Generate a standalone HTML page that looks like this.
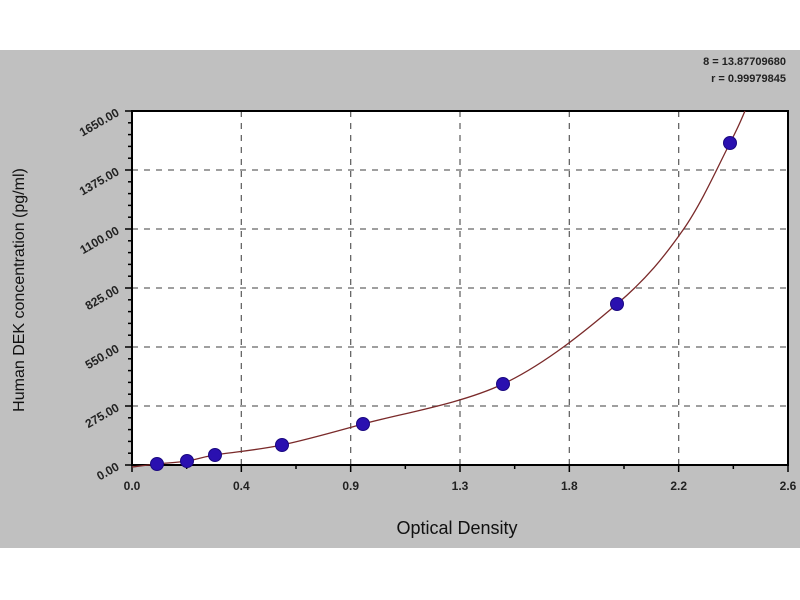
<!DOCTYPE html>
<html><head><meta charset="utf-8"><style>
html,body{margin:0;padding:0;background:#fff;width:800px;height:600px;overflow:hidden}
svg{display:block;font-family:"Liberation Sans",Arial,sans-serif}
</style></head><body>
<svg id="s" width="800" height="600" xmlns="http://www.w3.org/2000/svg">
<rect x="0" y="50" width="800" height="498" fill="#c0c0c0"/>
<rect x="132" y="111" width="656" height="354" fill="#fff"/>
<g id="grid" stroke="#666" stroke-width="1.3" stroke-dasharray="6,6"></g>
<g id="ticks" stroke="#000" stroke-width="1.5"></g>
<rect x="132" y="111" width="656" height="354" fill="none" stroke="#000" stroke-width="2"/>
<path id="curve" fill="none" stroke="#7a2a2a" stroke-width="1.3"/>
<g id="pts" fill="#2a10b0" stroke="#1a0880" stroke-width="1"></g>
<g id="labels" font-size="12" font-weight="bold" fill="#222"></g>
<text x="786" y="65" font-size="11" font-weight="bold" text-anchor="end" fill="#222">8 = 13.87709680</text>
<text x="786" y="82" font-size="11" font-weight="bold" text-anchor="end" fill="#222">r = 0.99979845</text>
<text x="457" y="534" font-size="18" text-anchor="middle" fill="#111">Optical Density</text>
<text transform="translate(24,290) rotate(-90)" font-size="16" text-anchor="middle" fill="#111">Human DEK concentration (pg/ml)</text>
</svg>
<script>
var NS="http://www.w3.org/2000/svg";
function el(p,t,a,txt){var e=document.createElementNS(NS,t);for(var k in a)e.setAttribute(k,a[k]);if(txt)e.textContent=txt;document.getElementById(p).appendChild(e);}
var L=132,R=788,T=111,B=465,dx=(R-L)/6,dy=(B-T)/6;
for(var i=1;i<6;i++){el("grid","line",{x1:L+i*dx,y1:T,x2:L+i*dx,y2:B});el("grid","line",{x1:L,y1:T+i*dy,x2:R,y2:T+i*dy});}
for(var i=0;i<=6;i++){el("ticks","line",{x1:L+i*dx,y1:B,x2:L+i*dx,y2:B+7});el("ticks","line",{x1:L-7,y1:T+i*dy,x2:L,y2:T+i*dy});}
for(var i=0;i<=30;i++){if(i%5)el("ticks","line",{x1:L-4,y1:T+i*dy/5,x2:L,y2:T+i*dy/5});}
for(var i=0;i<12;i++){el("ticks","line",{x1:L+(i+0.5)*dx,y1:B,x2:L+(i+0.5)*dx,y2:B+4});}
var xl=["0.0","0.4","0.9","1.3","1.8","2.2","2.6"];
for(var i=0;i<=6;i++)el("labels","text",{x:L+i*dx,y:B+25,"text-anchor":"middle"},xl[i]);
var yl=["0.00","275.00","550.00","825.00","1100.00","1375.00","1650.00"];
for(var i=0;i<=6;i++){var y=B-i*dy;el("labels","text",{transform:"translate("+(L-12)+","+(y+4)+") rotate(-30)","text-anchor":"end"},yl[i]);}
var P=[[132,467],[157,464],[187,461],[215,455],[282,445],[363,424],[503,384],[617,304],[683,230],[730,143],[745,111]];
var d="M"+P[0][0]+","+P[0][1];
for(var i=0;i<P.length-1;i++){var p0=P[Math.max(0,i-1)],p1=P[i],p2=P[i+1],p3=P[Math.min(P.length-1,i+2)];
d+=" C"+(p1[0]+(p2[0]-p0[0])/6)+","+(p1[1]+(p2[1]-p0[1])/6)+" "+(p2[0]-(p3[0]-p1[0])/6)+","+(p2[1]-(p3[1]-p1[1])/6)+" "+p2[0]+","+p2[1];}
document.getElementById("curve").setAttribute("d",d);
[[157,464],[187,461],[215,455],[282,445],[363,424],[503,384],[617,304],[730,143]].forEach(function(p){el("pts","circle",{cx:p[0],cy:p[1],r:6.5});});
</script>
</body></html>
